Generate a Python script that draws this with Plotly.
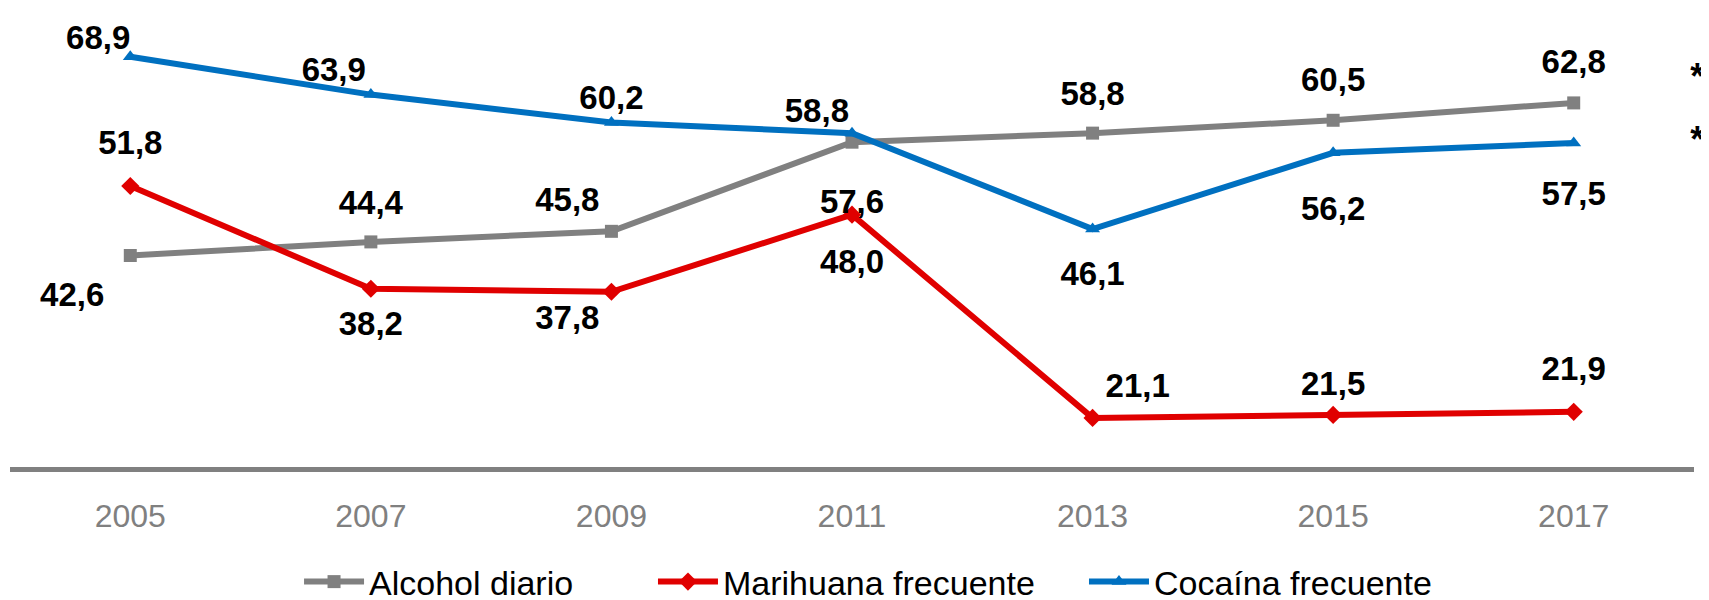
import plotly.graph_objects as go

years = ["2005", "2007", "2009", "2011", "2013", "2015", "2017"]
alcohol = [42.6, 44.4, 45.8, 57.6, 58.8, 60.5, 62.8]
marihuana = [51.8, 38.2, 37.8, 48.0, 21.1, 21.5, 21.9]
cocaina = [68.9, 63.9, 60.2, 58.8, 46.1, 56.2, 57.5]

names = ["Alcohol diario", "Marihuana frecuente", "Cocaína frecuente"]
series = [alcohol, marihuana, cocaina]
colors = ["#808080", "#E00000", "#0070C0"]
symbols = ["square", "diamond", "triangle-up"]
msizes = [13, 14, 13]

# label placement (style): text position and offset radius in px
label_pos = [
    ["bottom left", "top center", "top left", "bottom center", "top center", "top center", "top center"],
    ["top center", "bottom center", "bottom left", "bottom center", "top right", "top center", "top center"],
    ["top left", "top left", "top center", "top left", "bottom center", "bottom center", "bottom center"],
]
label_r = [
    [26, 20, 12, 46, 20, 21, 22],
    [24, 22, 12, 34, 13, 12, 24],
    [0, 5, 5, 3, 31, 42, 37],
]
legend_x = [0.1703, 0.3774, 0.6296]

def fmt(v):
    return f"{v:.1f}".replace(".", ",")

def rsize(r):
    return max(0.0, (r - 1) * 1.6)

FONT = "Liberation Sans"
label_font = dict(family=FONT, size=33, color="#000000", weight="bold")

fig = go.Figure()
legend_ids = ["legend", "legend2", "legend3"]
for name, vals, c, s, ms, lg in zip(names, series, colors, symbols, msizes, legend_ids):
    fig.add_trace(go.Scatter(
        x=years, y=vals, name=name, mode="lines+markers",
        line=dict(color=c, width=6),
        marker=dict(symbol=s, size=ms, color=c),
        legend=lg,
    ))

for vals, pos, rr in zip(series, label_pos, label_r):
    fig.add_trace(go.Scatter(
        x=years, y=vals, mode="markers+text", text=[fmt(v) for v in vals],
        textposition=pos, textfont=label_font, cliponaxis=False,
        marker=dict(size=[rsize(r) for r in rr], color="rgba(0,0,0,0)",
                    opacity=0, line=dict(width=0)),
        showlegend=False, hoverinfo="skip",
    ))

# significance asterisks next to the 2017 values
fig.add_trace(go.Scatter(
    x=[years[-1], years[-1]], y=[alcohol[-1], cocaina[-1]], mode="markers+text",
    text=["*<br> ", "*"], textposition="middle right",
    textfont=dict(family=FONT, size=36, color="#000000", weight="bold"),
    cliponaxis=False,
    marker=dict(size=rsize(116.5), color="rgba(0,0,0,0)", opacity=0, line=dict(width=0)),
    showlegend=False, hoverinfo="skip",
))

legend_common = dict(
    orientation="h", xref="container", yref="container", y=0.0433,
    xanchor="left", yanchor="middle",
    font=dict(family=FONT, size=34, color="#000000"),
    itemwidth=60, bgcolor="rgba(0,0,0,0)",
)

fig.update_layout(
    width=1709, height=600,
    margin=dict(l=2, r=23, t=2, b=141),
    paper_bgcolor="white", plot_bgcolor="white",
    font=dict(family=FONT),
    showlegend=True,
    legend=dict(x=legend_x[0], **legend_common),
    legend2=dict(x=legend_x[1], **legend_common),
    legend3=dict(x=legend_x[2], **legend_common),
)
fig.update_xaxes(
    type="category", range=[-0.5, 6.5],
    showline=True, linecolor="#808080", linewidth=5,
    showgrid=False, zeroline=False,
    ticks="outside", ticklen=17, tickcolor="rgba(0,0,0,0)",
    tickfont=dict(family=FONT, size=32, color="#808080"),
)
fig.update_yaxes(
    range=[14.6, 75.1], visible=False, showgrid=False, zeroline=False,
)

fig.write_html("out.html")
